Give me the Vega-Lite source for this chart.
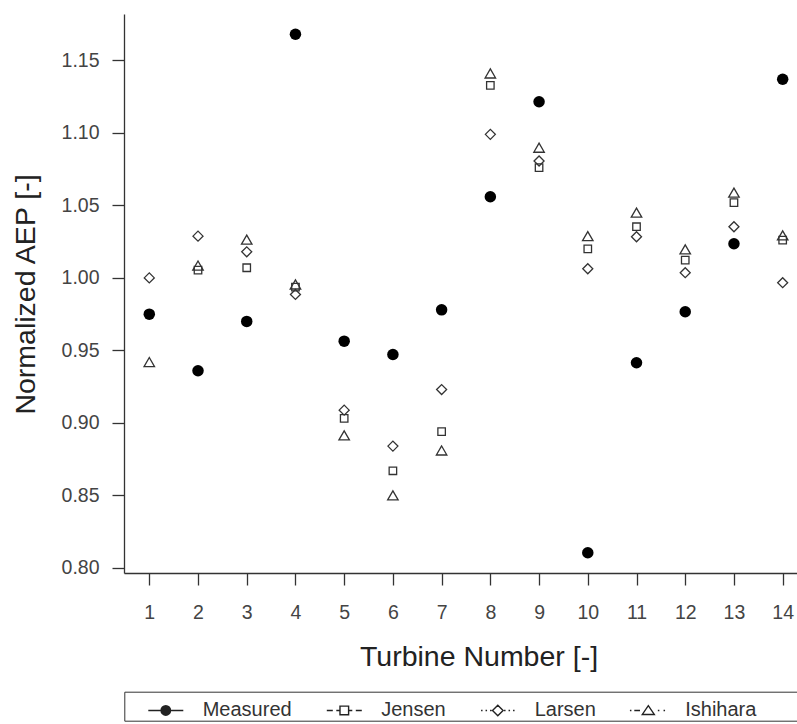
{
  "$schema": "https://vega.github.io/schema/vega-lite/v6.json",
  "width": 673,
  "height": 559,
  "autosize": "none",
  "padding": {"left": 124, "top": 14, "right": 0, "bottom": 151},
  "background": "white",
  "config": {"font": "Liberation Sans", "view": {"stroke": null}, "axis": {"grid": false}},
  "data": {"values": [
    {"series": "Measured", "turbine": 1, "value": 0.975},
    {"series": "Measured", "turbine": 2, "value": 0.936},
    {"series": "Measured", "turbine": 3, "value": 0.970},
    {"series": "Measured", "turbine": 4, "value": 1.168},
    {"series": "Measured", "turbine": 5, "value": 0.9564},
    {"series": "Measured", "turbine": 6, "value": 0.9472},
    {"series": "Measured", "turbine": 7, "value": 0.978},
    {"series": "Measured", "turbine": 8, "value": 1.056},
    {"series": "Measured", "turbine": 9, "value": 1.1215},
    {"series": "Measured", "turbine": 10, "value": 0.8105},
    {"series": "Measured", "turbine": 11, "value": 0.9415},
    {"series": "Measured", "turbine": 12, "value": 0.9767},
    {"series": "Measured", "turbine": 13, "value": 1.0236},
    {"series": "Measured", "turbine": 14, "value": 1.137},
    {"series": "Jensen", "turbine": 2, "value": 1.0054},
    {"series": "Jensen", "turbine": 3, "value": 1.007},
    {"series": "Jensen", "turbine": 4, "value": 0.9937},
    {"series": "Jensen", "turbine": 5, "value": 0.9031},
    {"series": "Jensen", "turbine": 6, "value": 0.867},
    {"series": "Jensen", "turbine": 7, "value": 0.894},
    {"series": "Jensen", "turbine": 8, "value": 1.1328},
    {"series": "Jensen", "turbine": 9, "value": 1.076},
    {"series": "Jensen", "turbine": 10, "value": 1.020},
    {"series": "Jensen", "turbine": 11, "value": 1.0353},
    {"series": "Jensen", "turbine": 12, "value": 1.0123},
    {"series": "Jensen", "turbine": 13, "value": 1.0519},
    {"series": "Jensen", "turbine": 14, "value": 1.026},
    {"series": "Larsen", "turbine": 1, "value": 1.000},
    {"series": "Larsen", "turbine": 2, "value": 1.0288},
    {"series": "Larsen", "turbine": 3, "value": 1.018},
    {"series": "Larsen", "turbine": 4, "value": 0.9886},
    {"series": "Larsen", "turbine": 5, "value": 0.9088},
    {"series": "Larsen", "turbine": 6, "value": 0.884},
    {"series": "Larsen", "turbine": 7, "value": 0.923},
    {"series": "Larsen", "turbine": 8, "value": 1.099},
    {"series": "Larsen", "turbine": 9, "value": 1.0806},
    {"series": "Larsen", "turbine": 10, "value": 1.0063},
    {"series": "Larsen", "turbine": 11, "value": 1.0284},
    {"series": "Larsen", "turbine": 12, "value": 1.0036},
    {"series": "Larsen", "turbine": 13, "value": 1.0353},
    {"series": "Larsen", "turbine": 14, "value": 0.9967},
    {"series": "Ishihara", "turbine": 1, "value": 0.942},
    {"series": "Ishihara", "turbine": 2, "value": 1.0085},
    {"series": "Ishihara", "turbine": 3, "value": 1.0264},
    {"series": "Ishihara", "turbine": 4, "value": 0.9955},
    {"series": "Ishihara", "turbine": 5, "value": 0.8914},
    {"series": "Ishihara", "turbine": 6, "value": 0.850},
    {"series": "Ishihara", "turbine": 7, "value": 0.881},
    {"series": "Ishihara", "turbine": 8, "value": 1.141},
    {"series": "Ishihara", "turbine": 9, "value": 1.0898},
    {"series": "Ishihara", "turbine": 10, "value": 1.0288},
    {"series": "Ishihara", "turbine": 11, "value": 1.045},
    {"series": "Ishihara", "turbine": 12, "value": 1.0197},
    {"series": "Ishihara", "turbine": 13, "value": 1.0588},
    {"series": "Ishihara", "turbine": 14, "value": 1.0293}
  ]},
  "encoding": {
    "x": {
      "field": "turbine", "type": "quantitative",
      "scale": {"domain": [0.481, 14.294], "nice": false, "zero": false},
      "axis": {
        "title": "Turbine Number [-]",
        "values": [1, 2, 3, 4, 5, 6, 7, 8, 9, 10, 11, 12, 13, 14],
        "format": "d",
        "tickSize": 12, "tickWidth": 1.3, "tickColor": "#333",
        "domainColor": "#333", "domainWidth": 1.3,
        "labelFontSize": 19.5, "labelColor": "#444", "labelPadding": 18,
        "labelFlush": false, "labelOverlap": false,
        "titleFontSize": 28.5, "titleFontWeight": "normal", "titleColor": "#222",
        "titleX": 354.5, "titleY": 92, "titleBaseline": "alphabetic", "titleAlign": "center"
      }
    },
    "y": {
      "field": "value", "type": "quantitative",
      "scale": {"domain": [0.7965, 1.182], "nice": false, "zero": false},
      "axis": {
        "title": "Normalized AEP [-]",
        "values": [0.8, 0.85, 0.9, 0.95, 1.0, 1.05, 1.1, 1.15],
        "format": ".2f",
        "tickSize": 12, "tickWidth": 1.3, "tickColor": "#333",
        "domainColor": "#333", "domainWidth": 1.3,
        "labelFontSize": 19.5, "labelColor": "#444", "labelPadding": 13,
        "labelOverlap": false,
        "titleFontSize": 28.5, "titleFontWeight": "normal", "titleColor": "#222",
        "titleAngle": 270, "titleX": -99, "titleY": 280, "titleBaseline": "middle", "titleAlign": "center"
      }
    }
  },
  "layer": [
    {
      "transform": [{"filter": "datum.series === 'Jensen'"}],
      "mark": {"type": "point", "shape": "square", "size": 56, "filled": false, "stroke": "#333", "strokeWidth": 1.3, "opacity": 1}
    },
    {
      "transform": [{"filter": "datum.series === 'Larsen'"}],
      "mark": {"type": "point", "shape": "diamond", "size": 100, "filled": false, "stroke": "#333", "strokeWidth": 1.3, "opacity": 1}
    },
    {
      "transform": [{"filter": "datum.series === 'Ishihara'"}],
      "mark": {"type": "point", "shape": "triangle-up", "size": 110, "filled": false, "stroke": "#333", "strokeWidth": 1.3, "opacity": 1}
    },
    {
      "transform": [{"filter": "datum.series === 'Measured'"}],
      "mark": {"type": "point", "shape": "circle", "size": 132, "filled": true, "fill": "#000", "stroke": null, "opacity": 1}
    },
    {
      "mark": {"type": "point", "opacity": 0, "size": 10, "filled": false, "color": "#222", "strokeWidth": 1.4},
      "encoding": {
        "shape": {
          "field": "series", "type": "nominal",
          "scale": {
            "domain": ["Measured", "Jensen", "Larsen", "Ishihara"],
            "range": [
              "M-1,0L1,0M0.27,0A0.27,0.27,0,1,1,-0.27,0A0.27,0.27,0,1,1,0.27,0ZM0.2,0A0.2,0.2,0,1,1,-0.2,0A0.2,0.2,0,1,1,0.2,0ZM0.135,0A0.135,0.135,0,1,1,-0.135,0A0.135,0.135,0,1,1,0.135,0ZM0.07,0A0.07,0.07,0,1,1,-0.07,0A0.07,0.07,0,1,1,0.07,0ZM0,-0.03L0,0.03",
              "M-1,0L-0.657,0M-0.457,0L-0.246,0M0.246,0L0.457,0M0.657,0L1,0M-0.246,-0.246L0.246,-0.246L0.246,0.246L-0.246,0.246Z",
              "M-0.957,0L-0.871,0M-0.7,0L-0.614,0M-0.443,0L-0.357,0M0.357,0L0.443,0M0.614,0L0.7,0M0.871,0L0.957,0M-0.303,0L0,-0.303L0.303,0L0,0.303Z",
              "M-1.05,0L-0.964,0M-0.8,0L-0.474,0M0.546,0L0.632,0M0.871,0L0.957,0M0,-0.27L0.343,0.23L-0.343,0.23Z"
            ]
          },
          "legend": {
            "title": null,
            "orient": "none",
            "legendX": 0.3,
            "legendY": 677.7,
            "direction": "horizontal",
            "columns": 4,
            "padding": 0,
            "symbolSize": 1225,
            "symbolStrokeWidth": 1.4,
            "symbolStrokeColor": "#222",
            "symbolFillColor": "transparent",
            "symbolOffset": 23,
            "labelOffset": 18.4,
            "columnPadding": 10.5,
            "labelFontSize": 20,
            "labelColor": "#333",
            "labelFont": "Liberation Sans",
            "labelLimit": 400,
            "strokeColor": "#333",
            "fillColor": "white",
            "symbolOpacity": 1,
            "labelExpr": "datum.label === 'Ishihara' ? 'Ishihara\u00a0\u00a0\u00a0\u00a0\u00a0\u00a0\u00a0\u00a0\u00a0\u00a0\u00a0\u200b' : datum.label"
          }
        }
      }
    }
  ]
}
